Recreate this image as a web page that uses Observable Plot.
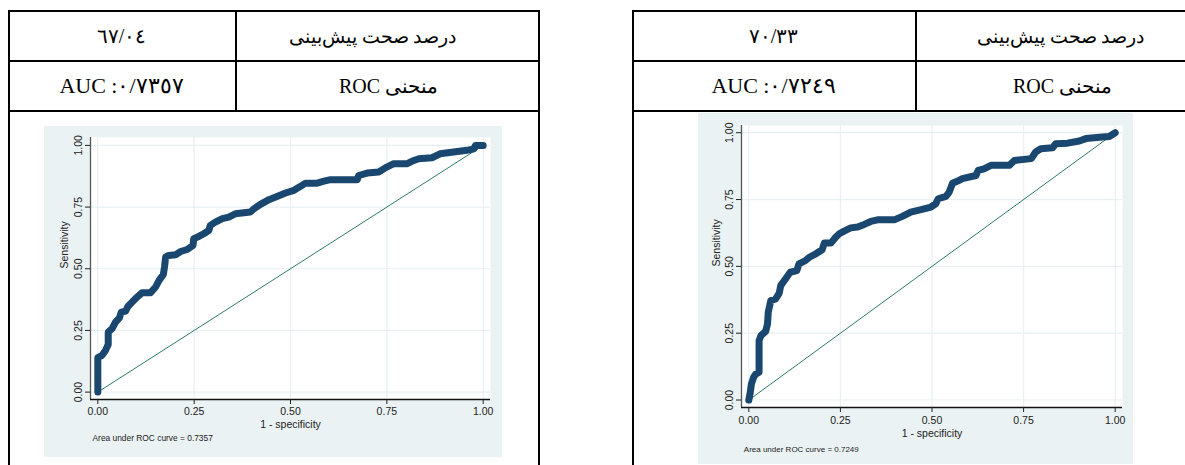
<!DOCTYPE html>
<html><head><meta charset="utf-8">
<script src="https://cdn.jsdelivr.net/npm/d3@7"></script>
<script src="https://cdn.jsdelivr.net/npm/@observablehq/plot@0.6"></script>
<style>
html,body{margin:0;padding:0;background:#fff;}
body{width:1185px;height:465px;overflow:hidden;position:relative;font-family:"Liberation Serif","Times New Roman",serif;}
.ln{position:absolute;background:#000;}
.cell{position:absolute;height:50px;display:flex;align-items:center;justify-content:center;font-size:20px;color:#000;white-space:nowrap;box-sizing:border-box;}
.chart{position:absolute;}
</style></head><body>
<script>
// ---- data ----
const headerLabels = ["درصد صحت پیش‌بینی", "منحنی ROC"];
const accuracyLabels = ["٦٧/٠٤", "٧٠/٣٣"];
const aucLabels = ["AUC :٠/٧٣٥٧", "AUC :٠/٧٢٤٩"];
const captions = ["Area under ROC curve = 0.7357", "Area under ROC curve = 0.7249"];
const tickValues = [0, 0.25, 0.5, 0.75, 1];
const diagX = [0, 1];
const diagY = [0, 1];

const leftFpr = [0,0,0.011,0.02,0.027,0.027,0.037,0.046,0.056,0.061,0.072,0.078,0.089,0.102,0.115,0.137,0.150,0.159,0.170,0.173,0.176,0.184,0.202,0.215,0.232,0.247,0.249,0.262,0.275,0.288,0.292,0.305,0.323,0.340,0.357,0.396,0.405,0.422,0.444,0.465,0.487,0.509,0.526,0.539,0.569,0.587,0.604,0.673,0.677,0.699,0.729,0.746,0.768,0.803,0.820,0.833,0.867,0.888,0.923,0.958,0.976,0.980,1];
const leftTpr = [0,0.14,0.149,0.169,0.193,0.243,0.257,0.284,0.301,0.324,0.328,0.347,0.365,0.385,0.403,0.403,0.426,0.453,0.477,0.507,0.547,0.554,0.557,0.570,0.578,0.595,0.622,0.631,0.642,0.655,0.676,0.689,0.703,0.709,0.723,0.730,0.743,0.761,0.780,0.793,0.807,0.818,0.834,0.847,0.847,0.855,0.861,0.861,0.878,0.888,0.892,0.909,0.926,0.926,0.939,0.946,0.950,0.966,0.973,0.980,0.986,1.0,1];

const rightFpr = [0,0.004,0.007,0.013,0.019,0.028,0.028,0.033,0.046,0.051,0.053,0.06,0.073,0.083,0.087,0.1,0.113,0.131,0.137,0.155,0.165,0.183,0.2,0.206,0.224,0.237,0.247,0.26,0.278,0.297,0.315,0.333,0.351,0.397,0.419,0.442,0.47,0.497,0.51,0.517,0.538,0.547,0.556,0.57,0.583,0.62,0.626,0.642,0.661,0.711,0.725,0.771,0.783,0.797,0.829,0.838,0.87,0.902,0.92,0.965,0.984,1];
const rightTpr = [0,0.029,0.06,0.085,0.097,0.104,0.222,0.241,0.257,0.285,0.328,0.372,0.378,0.4,0.428,0.453,0.478,0.484,0.509,0.522,0.534,0.547,0.562,0.587,0.587,0.609,0.622,0.632,0.644,0.647,0.657,0.668,0.674,0.674,0.687,0.703,0.712,0.722,0.734,0.753,0.762,0.778,0.811,0.819,0.828,0.84,0.859,0.865,0.878,0.878,0.896,0.903,0.928,0.94,0.944,0.959,0.961,0.969,0.978,0.984,0.986,1];

// ---- table frame ----
function line(x, y, w, h) {
  const d = document.createElement("div");
  d.className = "ln";
  Object.assign(d.style, {left: x + "px", top: y + "px", width: w + "px", height: h + "px"});
  document.body.appendChild(d);
}
function cell(x, w, y, txt, rtl, size, shift) {
  const d = document.createElement("div");
  d.className = "cell";
  if (rtl) d.dir = "rtl";
  Object.assign(d.style, {left: (x + (shift || 0)) + "px", top: y + "px", width: w + "px", fontSize: size + "px"});
  d.textContent = txt;
  document.body.appendChild(d);
}
const tables = [
  {l: 8, m: 235, r: 538, hs: -14, rs: 2},
  {l: 632, m: 915, r: 1220, hs: -7, rs: -5}
];
tables.forEach((t, i) => {
  const right = Math.min(t.r, 1185);
  [10, 60, 110].forEach(y => line(t.l, y, right - t.l + 1.5, 1.6));
  [t.l, t.r].forEach(x => { if (x < 1185) line(x, 10, 1.6, 470); });
  line(t.m, 10, 1.6, 101.6);
  cell(t.l, t.m - t.l, 11, accuracyLabels[i], false, 20, 0);
  cell(t.m, t.r - t.m, 11, headerLabels[0], true, 19, t.hs);
  cell(t.l, t.m - t.l, 61, aucLabels[i], false, 22, 0);
  cell(t.m, t.r - t.m, 61, headerLabels[1], true, 20, t.rs);
});

// ---- ROC charts ----
function roc(fpr, tpr, caption, o) {
  const pts = fpr.map((x, i) => ({x, y: tpr[i]}));
  const diag = diagX.map((x, i) => ({x, y: diagY[i]}));
  const fmt = d3.format(".2f");
  return Plot.plot({
    width: o.w, height: o.h,
    marginLeft: o.ml, marginRight: o.mr, marginTop: o.mt, marginBottom: o.mb,
    x: {domain: o.xd},
    y: {domain: o.yd},
    style: {background: "#eaf2f3", fontFamily: "'Liberation Sans', Arial, sans-serif", color: "#222", overflow: "visible"},
    marks: [
      Plot.frame({fill: "white", stroke: null}),
      Plot.ruleX(tickValues, {stroke: "#e8f0f2", strokeWidth: 1.2}),
      Plot.ruleY(tickValues, {stroke: "#e8f0f2", strokeWidth: 1.2}),
      Plot.line(diag, {x: "x", y: "y", stroke: "#2f7a68", strokeWidth: 1}),
      Plot.line(pts, {x: "x", y: "y", stroke: "#1a476f", strokeWidth: 7, strokeLinejoin: "round", strokeLinecap: "round"}),
      Plot.ruleX([o.xd[0]], {stroke: "#555", strokeWidth: 1.3}),
      Plot.ruleY([o.yd[0]], {stroke: "#111", strokeWidth: 1.3}),
      Plot.axisX({ticks: tickValues, tickFormat: fmt, tickSize: 5, tickPadding: o.xpad, fontSize: 10.5, label: null}),
      Plot.axisY({ticks: tickValues, tickFormat: fmt, tickSize: 5, tickPadding: 4, tickRotate: -90, fontSize: 10.5, label: null}),
      Plot.text(["1 - specificity"], {frameAnchor: "bottom", dy: o.xt, fontSize: 10.5}),
      Plot.text(["Sensitivity"], {frameAnchor: "left", rotate: -90, dx: o.yt, fontSize: 10.5}),
      Plot.text([caption], {frameAnchor: "bottom-left", textAnchor: "start", dx: o.cx, dy: o.cy, fontSize: o.cs})
    ]
  });
}
const charts = [
  {fpr: leftFpr, tpr: leftTpr, left: 44, top: 126, w: 458, h: 331, ml: 46, mr: 12, mt: 11, mb: 58,
   xd: [-0.019, 1.019], yd: [-0.03, 1.032], xpad: 3, xt: 28, yt: -26, cx: 2, cy: 41, cs: 8.4},
  {fpr: rightFpr, tpr: rightTpr, left: 698, top: 113, w: 435, h: 351, ml: 43, mr: 11, mt: 12, mb: 57,
   xd: [-0.02, 1.02], yd: [-0.028, 1.027], xpad: 4, xt: 29, yt: -25, cx: 2.3, cy: 44, cs: 8}
];
charts.forEach((c, i) => {
  const svg = roc(c.fpr, c.tpr, captions[i], c);
  const wrap = document.createElement("div");
  wrap.className = "chart";
  wrap.style.left = c.left + "px";
  wrap.style.top = c.top + "px";
  wrap.appendChild(svg);
  document.body.appendChild(wrap);
});
</script>
</body></html>
